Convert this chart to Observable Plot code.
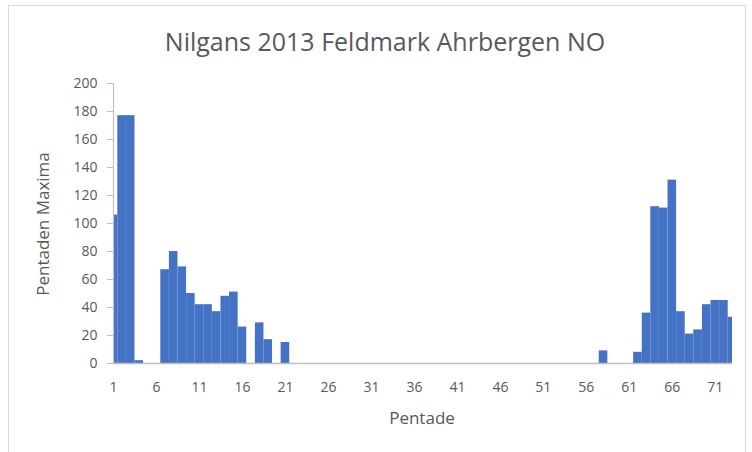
<!DOCTYPE html>
<html>
<head>
<meta charset="utf-8">
<script src="https://cdn.jsdelivr.net/npm/d3@7"></script>
<script src="https://cdn.jsdelivr.net/npm/@observablehq/plot@0.6"></script>
<style>
  html, body { margin: 0; padding: 0; background: #fff; }
  #wrap { position: relative; width: 752px; height: 452px; overflow: hidden; background: #fff; font-family: "Open Sans", sans-serif; color: #595959; }
  #frame { position: absolute; left: 8px; top: 5px; width: 738px; height: 470px; border: 1px solid #d9d9d9; box-sizing: border-box; }
  #title { position: absolute; left: 0; top: 26px; width: 770px; text-align: center; font-size: 25px; line-height: 30px; color: #595959; }
  #xlab { position: absolute; left: 322px; top: 407px; width: 200px; text-align: center; font-size: 17px; line-height: 22px; }
  #ylab { position: absolute; left: 43px; top: 224px; width: 200px; margin-left: -100px; margin-top: -11px; text-align: center; font-size: 17px; line-height: 22px; transform: rotate(-90deg); }
  #chart { position: absolute; left: 0; top: 0; }
</style>
</head>
<body>
<div id="wrap">
  <div id="frame"></div>
  <div id="chart"></div>
  <div id="title">Nilgans 2013 Feldmark Ahrbergen NO</div>
  <div id="ylab">Pentaden Maxima</div>
  <div id="xlab">Pentade</div>
</div>
<script>
const pentades = d3.range(1, 74);
const maxima = [
  106, 177, 177, 2, 0, 0, 67, 80, 69, 50,
  42, 42, 37, 48, 51, 26, 0, 29, 17, 0,
  15, 0, 0, 0, 0, 0, 0, 0, 0, 0,
  0, 0, 0, 0, 0, 0, 0, 0, 0, 0,
  0, 0, 0, 0, 0, 0, 0, 0, 0, 0,
  0, 0, 0, 0, 0, 0, 0, 9, 0, 0,
  0, 8, 36, 112, 111, 131, 37, 21, 24, 42,
  45, 45, 33
];
const xTicks = d3.range(1, 74, 5);
const yTicks = d3.range(0, 201, 20);

const data = pentades.map((p, i) => ({p, v: maxima[i]}));

const chart = Plot.plot({
  width: 752,
  height: 452,
  marginLeft: 113,
  marginRight: 20,
  marginTop: 83,
  marginBottom: 89,
  style: {fontFamily: "Open Sans, sans-serif", fontSize: "14px", color: "#595959", background: "transparent"},
  x: {domain: [1, 73]},
  y: {domain: [0, 200]},
  marks: [
    Plot.rectY(data, {x1: d => d.p - 0.5, x2: d => d.p + 0.5, y: "v", fill: "#4472C4", clip: true}),
    Plot.ruleY([0], {stroke: "#bfbfbf", strokeWidth: 1.5}),
    Plot.ruleX([1], {stroke: "#bfbfbf", strokeWidth: 1.2}),
    Plot.axisY({ticks: yTicks, tickSize: 6, tickPadding: 10, stroke: "#bfbfbf", label: null, fill: "#595959"}),
    Plot.axisX({ticks: xTicks, tickSize: 0, tickPadding: 19, label: null, fill: "#595959"})
  ]
});
document.getElementById("chart").appendChild(chart);
</script>
</body>
</html>
